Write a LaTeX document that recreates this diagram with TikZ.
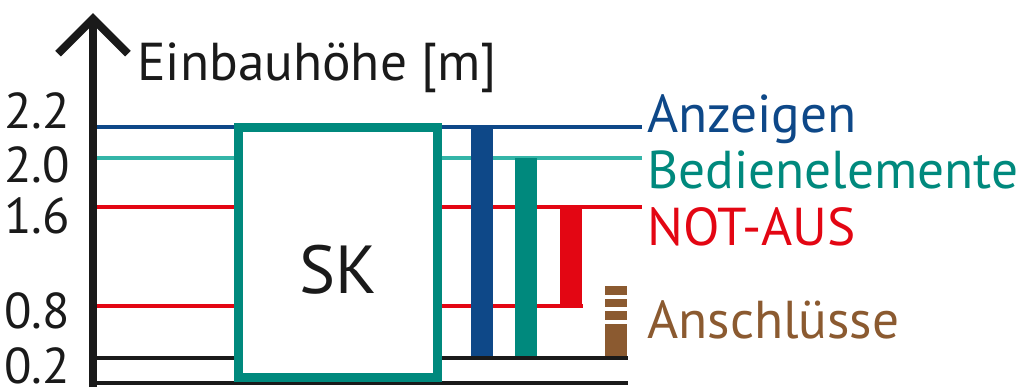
\documentclass[tikz,border=0pt]{standalone}
\usepackage{fontspec}
\setmainfont{PT Sans}
\usetikzlibrary{arrows.meta}
\definecolor{axisblack}{RGB}{26,26,26}
\definecolor{anzblue}{RGB}{14,72,136}
\definecolor{bedline}{RGB}{52,181,168}
\definecolor{bedteal}{RGB}{0,137,125}
\definecolor{notred}{RGB}{227,6,19}
\definecolor{anbrown}{RGB}{139,90,48}

\begin{document}
\begin{tikzpicture}[x=0.03cm,y=-0.03cm,
    level/.style={line width=3.4pt},
    bar/.style={line width=18.8pt},
    tick/.style={anchor=base east,inner sep=0pt,font=\fontsize{43}{43}\selectfont,text=axisblack},
    legend/.style={anchor=base west,inner sep=0pt,font=\fontsize{45.5}{45.5}\selectfont}]
      \useasboundingbox (0,0) rectangle (1027,387);
      % levels
      \draw[level,anzblue] (93,127) -- (642,127);
      \draw[level,bedline] (93,158) -- (642,158);
      \draw[level,notred] (93,207) -- (642,207);
      \draw[level,notred] (93,306) -- (583,306);
      \draw[level,axisblack] (93,358) -- (628,358);
      \draw[level,axisblack] (93,383) -- (628,383);
      % axis
      \draw[line width=6.8pt,axisblack,-{Straight Barb[length=1.05cm,width=2.1cm]}] (93,387) -- (93,13);
      \node[legend,text=axisblack] (title) at (137,80) {Einbauhöhe [m]};
      \node[tick] (tick22) at (70,128) {2.2};
      \node[tick] (tick20) at (70,182) {2.0};
      \node[tick] (tick16) at (70,233) {1.6};
      \node[tick] (tick08) at (70,328) {0.8};
      \node[tick] (tick02) at (70,383) {0.2};
      % control cabinet
      \node[draw=bedteal,fill=white,line width=7.7pt,minimum width=5.97cm,minimum height=7.5cm,inner sep=0pt] (box) at (338,252.5) {};
      \node[anchor=base,inner sep=0pt,font=\fontsize{58}{58}\selectfont,text=axisblack] (sk) at (338,293) {SK};
      % bars
      \draw[bar,anzblue] (482,125) -- (482,356);
      \draw[bar,bedteal] (526,158) -- (526,356);
      \draw[bar,notred] (571,207) -- (571,308);
      \fill[anbrown] (605,286) rectangle (627,295);
      \fill[anbrown] (605,299) rectangle (627,307);
      \fill[anbrown] (605,311) rectangle (627,320);
      \fill[anbrown] (605,324) rectangle (627,356);
      % legend
      \node[legend,text=anzblue] (lanz) at (647,132) {Anzeigen};
      \node[legend,text=bedteal] (lbed) at (647,188) {Bedienelemente};
      \node[legend,text=notred] (lnot) at (647,245) {NOT-AUS};
      \node[legend,text=anbrown] (lans) at (647,338) {Anschlüsse};
\end{tikzpicture}
\end{document}
